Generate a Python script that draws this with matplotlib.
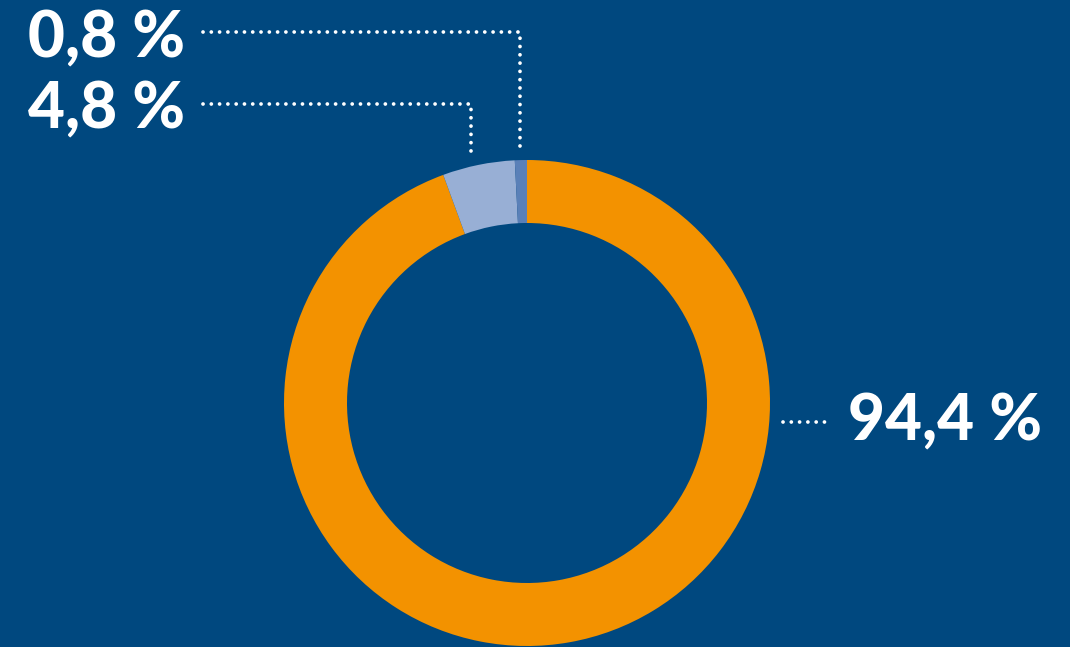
import numpy as np
import matplotlib
matplotlib.use("Agg")
import matplotlib.pyplot as plt

plt.rcParams["font.family"] = ["Lato", "DejaVu Sans"]

# Data
shares = [94.4, 4.8, 0.8]
labels = ["94,4 %", "4,8 %", "0,8 %"]
colours = ["#F39200", "#98AFD5", "#5A80B8"]

BG = "#00487F"
W, H = 1070, 647
CX, CY = 527, H - 403  # donut centre in pixel units (y up)
R_OUT, R_IN = 243, 180

fig = plt.figure(figsize=(W / 100, H / 100), dpi=100, facecolor=BG)
ax = fig.add_axes([0, 0, 1, 1])
ax.set_facecolor(BG)

wedges, _ = ax.pie(
    shares,
    colors=colours,
    startangle=90,
    counterclock=False,
    center=(CX, CY),
    radius=R_OUT,
    wedgeprops={"width": R_OUT - R_IN, "linewidth": 0},
    frame=True,
)
ax.set_xlim(0, W)
ax.set_ylim(0, H)
ax.set_aspect("equal")
ax.axis("off")

dot_style = dict(
    color="white",
    lw=2.7,
    linestyle=(0, (0.01, 2.2)),
    dash_capstyle="round",
    solid_capstyle="round",
)
txt_style = dict(color="white", fontsize=46, fontweight="black", va="baseline")

# Small slices: labels top left with elbow leaders
for w, lab, ty, tb in zip(wedges[1:][::-1], labels[1:][::-1],
                          [H - 32, H - 104], [H - 57, H - 128]):
    a = np.deg2rad(w.theta1 + 0.6 * (w.theta2 - w.theta1))
    x = CX + R_OUT * np.cos(a)
    y_edge = CY + np.sqrt(R_OUT ** 2 - (x - CX) ** 2)
    ax.plot([203, x, x], [ty, ty, y_edge + 13], **dot_style)
    ax.text(185, tb, lab, ha="right", **txt_style)

# Large slice: label on the right
ty = H - 422
ax.plot([CX + R_OUT + 13, 828], [ty, ty], **dot_style)
ax.text(848, H - 440, labels[0], ha="left", **txt_style)

fig.savefig("out.png", dpi=100, facecolor=BG)
